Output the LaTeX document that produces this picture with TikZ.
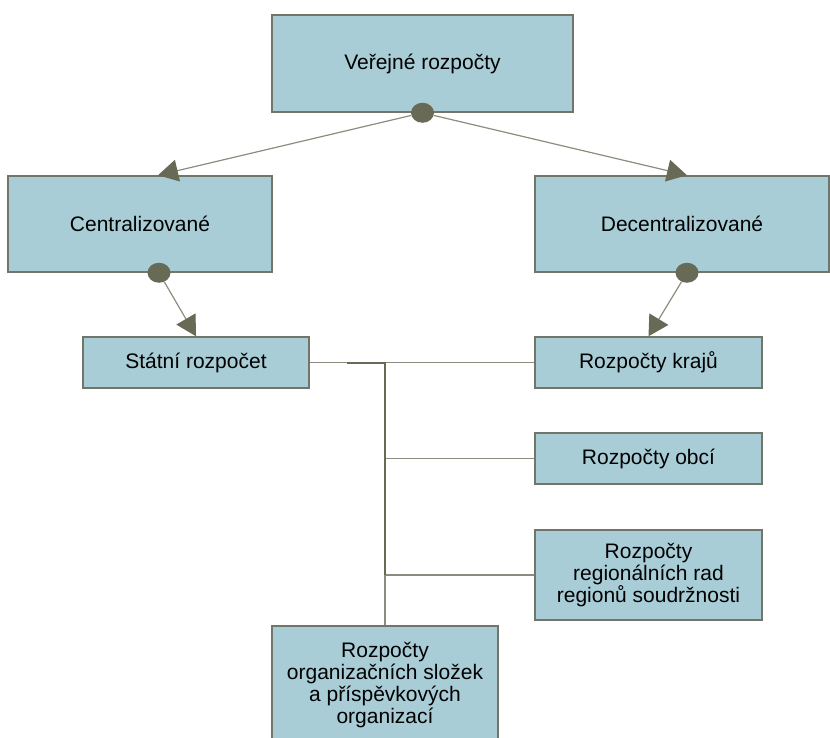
\documentclass[tikz,border=0pt]{standalone}
\usepackage{fontspec}
\setmainfont{Liberation Sans}
\usetikzlibrary{arrows.meta,shapes.geometric}
\definecolor{boxfill}{HTML}{A8CDD7}
\definecolor{boxline}{HTML}{71756A}
\definecolor{olive}{HTML}{686A55}
\definecolor{wire}{HTML}{8C8C7E}

\begin{document}
\begin{tikzpicture}[x=1pt,y=-1pt,
    box/.style={draw=boxline,line width=1.5pt,fill=boxfill,align=center,inner sep=0pt,
      font=\fontsize{21}{22}\selectfont},
    dot/.style={ellipse,fill=olive,minimum width=23pt,minimum height=20pt,inner sep=0pt},
    link/.style={draw=wire,line width=1.2pt},
    trunk/.style={draw=olive,line width=2pt},
    tip/.style={link,-{Triangle[length=20pt,width=22pt,color=olive]}}]
  \clip (0,0) rectangle (830,737);
  \node[box,minimum width=301pt,minimum height=97pt] (pub) at (422.5,63.5) {Veřejné rozpočty};
  \node[box,minimum width=264pt,minimum height=96pt] (cent) at (140,224) {Centralizované};
  \node[box,minimum width=294pt,minimum height=96pt] (decent) at (682,224) {Decentralizované};
  \node[box,minimum width=226pt,minimum height=51pt] (state) at (196,362.5) {Státní rozpočet};
  \node[box,minimum width=227pt,minimum height=51pt] (kraje) at (648.5,362.5) {Rozpočty krajů};
  \node[box,minimum width=227pt,minimum height=51pt] (obce) at (648.5,458.5) {Rozpočty obcí};
  \node[box,minimum width=227pt,minimum height=90pt] (rrr) at (648.5,575)
    {Rozpočty\\regionálních rad\\regionů soudržnosti};
  \node[box,minimum width=226pt,minimum height=119pt] (org) at (385,685.5)
    {Rozpočty\\organizačních složek\\a příspěvkových\\organizací};
  \node[dot] (dp) at (pub.south) {};
  \node[dot] (dc) at ([xshift=19pt]cent.south) {};
  \node[dot] (dd) at ([xshift=5pt]decent.south) {};
  \coordinate (j) at (385,362.5);

  \path[tip]
    (dp) edge ([xshift=18pt]cent.north)
    (dp) edge ([xshift=5pt]decent.north)
    (dc) edge (state.north)
    (dd) edge (kraje.north);
  \draw[link] (state) -- (kraje);
  \draw[link] (j |- obce.west) -- (obce);
  \draw[link] (j |- rrr.west) -- (rrr);
  \draw[link] (j) -- (org);
  \draw[trunk] ([xshift=-38pt]j) -- (j) -- (j |- rrr.west);
\end{tikzpicture}
\end{document}
